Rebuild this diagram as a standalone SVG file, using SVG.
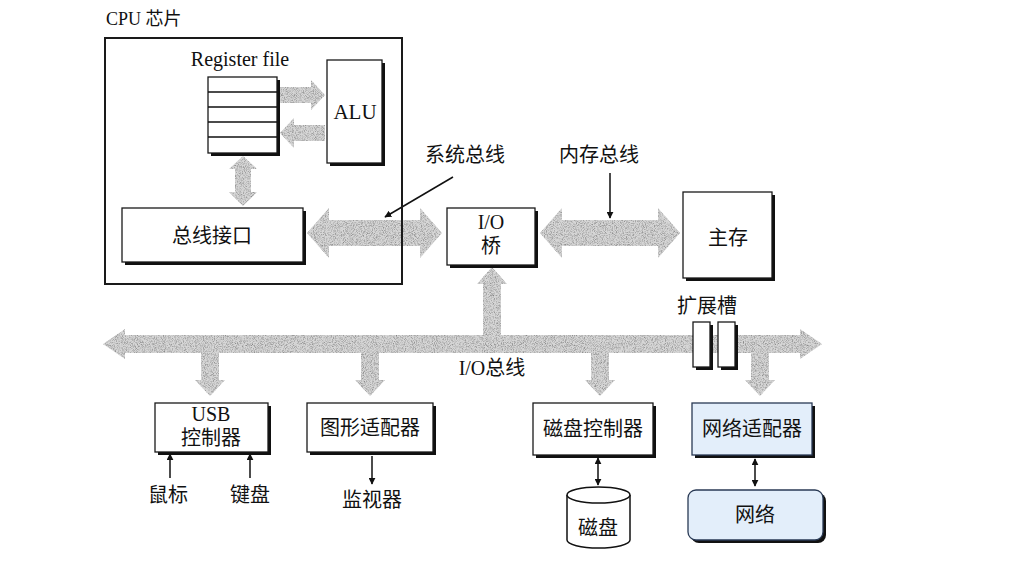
<svg xmlns="http://www.w3.org/2000/svg" width="1014" height="567" viewBox="0 0 1014 567">
<style>
.box{fill:#fff;stroke:#1a1a1a;stroke-width:1.3}
.blue{fill:#e3eefa;stroke:#2a3a55;stroke-width:1.3}
.sh{fill:#111}
.fat{fill:#d6d6d6;filter:url(#grain)}
.t{font-family:"Liberation Serif","Noto Sans CJK SC",serif;font-size:20px;fill:#111;text-anchor:middle}
.s18{font-size:18px}
.s21{font-size:21px}
.ln{stroke:#111;stroke-width:1.5;fill:none}
</style>
<defs>
<filter id="grain" x="-5%" y="-5%" width="110%" height="110%" color-interpolation-filters="sRGB">
<feTurbulence type="fractalNoise" baseFrequency="1.1" numOctaves="2" seed="4" result="n"/>
<feColorMatrix in="n" type="matrix" values="0 0 0 0 0.5 0 0 0 0 0.5 0 0 0 0 0.5 2 0 0 0 -0.85" result="d"/>
<feComposite in="d" in2="SourceAlpha" operator="in" result="dm"/>
<feMerge><feMergeNode in="SourceGraphic"/><feMergeNode in="dm"/></feMerge>
</filter>
<marker id="ah" viewBox="0 0 10 10" refX="9" refY="5" markerWidth="7" markerHeight="7" orient="auto-start-reverse" markerUnits="userSpaceOnUse">
<path d="M0,0 L10,5 L0,10 Z" fill="#111"/>
</marker>
</defs>
<rect width="1014" height="567" fill="#fff"/>

<g id="connectors">
<polygon class="fat" points="280,87 311,87 311,80 325,95 311,110 311,103 280,103"/>
<polygon class="fat" points="325,125 294,125 294,118 280,133 294,148 294,141 325,141"/>
<polygon class="fat" points="243,156 257,169 251,169 251,192 257,192 243,206 229,192 235,192 235,169 229,169"/>
<polygon class="fat" points="307,233 329,208 329,220 420,220 420,208 442,233 420,258 420,246 329,246 329,258"/>
<polygon class="fat" points="540,233 562,208 562,220 658,220 658,208 680,233 658,258 658,246 562,246 562,258"/>
<polygon class="fat" points="103,344 125,329 125,335 800,335 800,329 822,344 800,359 800,353 125,353 125,359"/>
<polygon class="fat" points="492,267 507,284 501,284 501,338 483,338 483,284 477,284"/>
<polygon class="fat" points="201,350 219,350 219,380 225,380 210,396 195,380 201,380"/>
<polygon class="fat" points="361,350 379,350 379,380 385,380 370,396 355,380 361,380"/>
<polygon class="fat" points="591,350 609,350 609,380 615,380 600,396 585,380 591,380"/>
<polygon class="fat" points="751,350 769,350 769,380 775,380 760,396 745,380 751,380"/>
<line class="ln" x1="453" y1="177" x2="385" y2="217" marker-end="url(#ah)"/>
<line class="ln" x1="610" y1="173" x2="610" y2="218" marker-end="url(#ah)"/>
<line class="ln" x1="170" y1="478" x2="170" y2="454" marker-end="url(#ah)"/>
<line class="ln" x1="250" y1="478" x2="250" y2="454" marker-end="url(#ah)"/>
<line class="ln" x1="372" y1="456" x2="372" y2="484" marker-end="url(#ah)"/>
<line class="ln" x1="598" y1="458" x2="598" y2="485" marker-start="url(#ah)" marker-end="url(#ah)"/>
<line class="ln" x1="755" y1="459" x2="755" y2="486" marker-start="url(#ah)" marker-end="url(#ah)"/>
</g>

<g id="cpu">
<rect x="105" y="38" width="297" height="246" fill="none" stroke="#1a1a1a" stroke-width="2"/>
<text class="t s18" x="106" y="25" style="text-anchor:start">CPU 芯片</text>
</g>

<g id="regfile">
<text class="t" x="240" y="66">Register file</text>
<rect class="sh" x="211" y="80" width="69" height="76"/>
<rect class="box" x="208" y="77" width="69" height="76"/>
<path class="ln" d="M208,92H277M208,107H277M208,122H277M208,137H277" stroke-width="1.2"/>
</g>

<g id="alu">
<rect class="sh" x="330" y="63" width="55" height="103"/>
<rect class="box" x="327" y="60" width="55" height="103"/>
<text class="t s21" x="355" y="119">ALU</text>
</g>

<g id="busif">
<rect class="sh" x="125" y="211" width="181" height="54"/>
<rect class="box" x="122" y="208" width="181" height="54"/>
<text class="t" x="212" y="243">总线接口</text>
</g>

<g id="sysbus-label"><text class="t" x="465" y="162">系统总线</text></g>
<g id="membus-label"><text class="t" x="599" y="162">内存总线</text></g>

<g id="iobridge">
<rect class="sh" x="450" y="211" width="88" height="57"/>
<rect class="box" x="447" y="208" width="88" height="57"/>
<text class="t" x="491" y="229">I/O</text>
<text class="t" x="491" y="253">桥</text>
</g>

<g id="mainmem">
<rect class="sh" x="686" y="195" width="89" height="86"/>
<rect class="box" x="683" y="192" width="89" height="86"/>
<text class="t" x="728" y="245">主存</text>
</g>

<g id="slots">
<text class="t" x="707" y="313">扩展槽</text>
<rect class="sh" x="696" y="325" width="17" height="45"/>
<rect class="box" x="693" y="322" width="17" height="45"/>
<rect class="sh" x="721" y="325" width="17" height="45"/>
<rect class="box" x="718" y="322" width="17" height="45"/>
</g>

<g id="iobus-label"><text class="t" x="492" y="375">I/O总线</text></g>

<g id="usb">
<rect class="sh" x="158" y="406" width="113" height="49"/>
<rect class="box" x="155" y="403" width="113" height="49"/>
<text class="t" x="211" y="421">USB</text>
<text class="t" x="211" y="445">控制器</text>
</g>
<g id="mouse"><text class="t" x="168" y="502">鼠标</text></g>
<g id="keyboard"><text class="t" x="250" y="502">键盘</text></g>

<g id="graphics">
<rect class="sh" x="310" y="406" width="126" height="49"/>
<rect class="box" x="307" y="403" width="126" height="49"/>
<text class="t" x="370" y="435">图形适配器</text>
</g>
<g id="monitor"><text class="t" x="372" y="507">监视器</text></g>

<g id="diskctl">
<rect class="sh" x="536" y="406" width="120" height="52"/>
<rect class="box" x="533" y="403" width="120" height="52"/>
<text class="t" x="593" y="436">磁盘控制器</text>
</g>

<g id="disk">
<path d="M567,495 V540 A31.5,8 0 0 0 630,540 V495" fill="#fff" stroke="#111" stroke-width="1.5"/>
<ellipse cx="598.5" cy="495" rx="31.5" ry="8" fill="#fff" stroke="#111" stroke-width="1.5"/>
<text class="t" x="598" y="535">磁盘</text>
</g>

<g id="netadapter">
<rect class="sh" x="695" y="406" width="120" height="52"/>
<rect class="blue" x="692" y="403" width="120" height="52"/>
<text class="t" x="752" y="436">网络适配器</text>
</g>

<g id="network">
<rect x="691" y="493" width="135" height="50" rx="8" fill="#111"/>
<rect class="blue" x="688" y="490" width="135" height="50" rx="8"/>
<text class="t" x="755" y="522">网络</text>
</g>
</svg>
